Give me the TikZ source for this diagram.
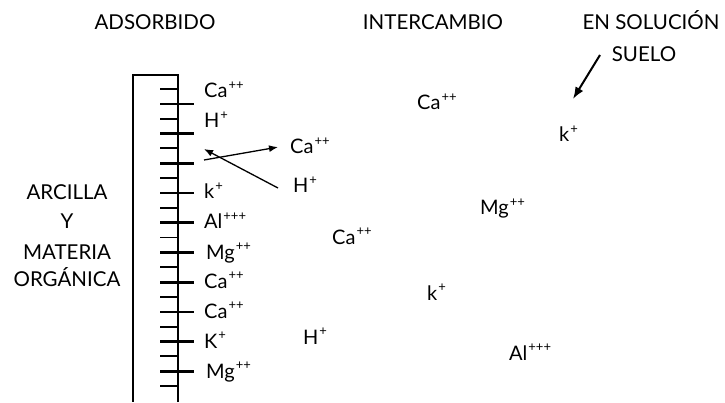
\documentclass[tikz,border=0pt]{standalone}
\usepackage{fontspec}
\setmainfont{Lato}
\usetikzlibrary{arrows.meta}

\tikzset{
  ion/.style={anchor=base west, inner sep=0pt, font=\fontsize{20}{22}\selectfont},
  header/.style={anchor=base, inner sep=0pt, font=\fontsize{20.5}{23}\selectfont},
  longtick/.style={line width=2.6pt},
  shorttick/.style={line width=1.8pt},
  swap/.style={line width=1.3pt, -{Latex[length=9pt,width=7pt]}},
}
\newcommand{\ionsup}[1]{\kern1pt\raisebox{0.42em}{\fontsize{13}{13}\selectfont #1}}

\begin{document}
\begin{tikzpicture}[x=1pt, y=-1pt]
  \useasboundingbox (0,0) rectangle (725,403);
  % headings
  \node[header] (adsorbido) at (155,30) {ADSORBIDO};
  \node[header] (intercambio) at (433,30) {INTERCAMBIO};
  \node[header] (ensol) at (651,30) {EN SOLUCIÓN};
  \node[header] (suelo) at (644,62) {SUELO};
  % left caption
  \node[header] (arcilla) at (67,200) {ARCILLA};
  \node[header] (y) at (67,229) {Y};
  \node[header] (materia) at (67,260) {MATERIA};
  \node[header] (organica) at (67,287) {ORGÁNICA};
  % the clay particle
  \draw[line width=1.3pt] (178,402) -- (178,75) -- (133,75) -- (133,402);
  \foreach \k in {0,...,10}
    \draw[shorttick] (160,89+29.7*\k) -- (178,89+29.7*\k);
  \foreach \k in {0,...,9}
    \draw[longtick] (160,104+29.7*\k) -- (194,104+29.7*\k);
  % adsorbed cations
  \node[ion] (caA) at (204,98) {Ca\ionsup{++}};
  \node[ion] (hA) at (204,128) {H\ionsup{+}};
  \node[ion] (kA) at (204,199) {k\ionsup{+}};
  \node[ion] (alA) at (204,229) {Al\ionsup{+++}};
  \node[ion] (mgA) at (206,259) {Mg\ionsup{++}};
  \node[ion] (caB) at (204,288) {Ca\ionsup{++}};
  \node[ion] (caC) at (204,318) {Ca\ionsup{++}};
  \node[ion] (kB) at (204,348) {K\ionsup{+}};
  \node[ion] (mgB) at (206,378) {Mg\ionsup{++}};
  % exchange
  \node[ion] (caX) at (290,154) {Ca\ionsup{++}};
  \node[ion] (hX) at (293,193) {H\ionsup{+}};
  \coordinate (outgo) at (204,160);
  \coordinate (income) at (204,149);
  \draw[swap] (outgo) -- ([xshift=-12pt,yshift=-1pt]caX.west);
  \draw[swap] ([xshift=-15pt,yshift=-3pt]hX.west) -- (income);
  % cations in the soil solution
  \node[ion] (caS) at (417,110) {Ca\ionsup{++}};
  \node[ion] (kS) at (559,142) {k\ionsup{+}};
  \node[ion] (mgS) at (480,215) {Mg\ionsup{++}};
  \node[ion] (caT) at (332,244) {Ca\ionsup{++}};
  \node[ion] (kT) at (427,300) {k\ionsup{+}};
  \node[ion] (hS) at (303,344) {H\ionsup{+}};
  \node[ion] (alS) at (509,360) {Al\ionsup{+++}};
  \coordinate (soltip) at (573,99);
  \draw[line width=2pt, -{Latex[length=12pt,width=9pt]}] (600,55) -- (soltip);
\end{tikzpicture}
\end{document}
